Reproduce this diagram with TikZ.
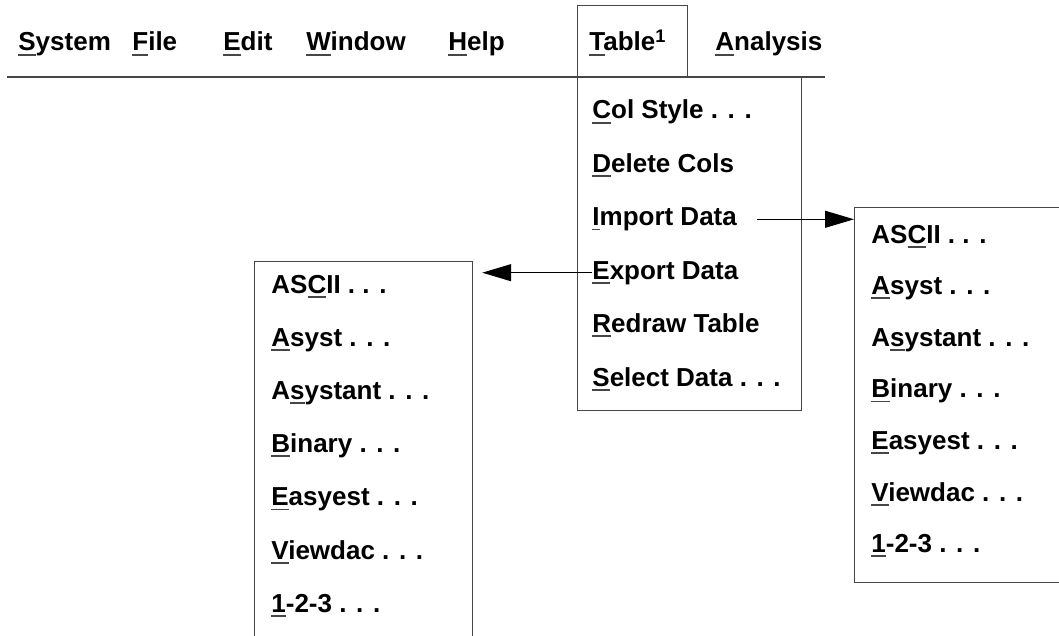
\documentclass[tikz,border=0pt]{standalone}
\usepackage{fontspec}
\setmainfont{Liberation Sans}
\usepackage{xcolor}
\usetikzlibrary{arrows.meta,positioning}
\definecolor{ink}{RGB}{0,0,0}
\definecolor{rulegray}{RGB}{70,70,70}
% underlined access letter of a menu entry
\newcommand{\hotkey}[1]{\setbox0\hbox{#1}\rlap{\color{rulegray}\rule[-2.3pt]{\wd0}{0.9pt}}#1}
\tikzset{
  menuitem/.style={inner sep=0pt,anchor=base west,text=ink,
    font=\fontsize{13}{15}\selectfont\bfseries,text height=9.5pt,text depth=3pt},
  frame/.style={draw=rulegray,line width=0.6pt,inner sep=0pt,anchor=north west},
  pointer/.style={draw=ink,line width=0.6pt,-{Triangle[length=14.5pt,width=8.5pt]}}
}
\begin{document}
\begin{tikzpicture}[x=0.5pt,y=-0.5pt]
  \clip (0,0) rectangle (1059,636);
  \fill[white] (0,0) rectangle (1059,636);
  % menu bar
  \node[menuitem] (sys) at (18,51) {\hotkey{S}ystem};
  \node[menuitem] (file) at (132,51) {\hotkey{F}ile};
  \node[menuitem] (edit) at (223,51) {\hotkey{E}dit};
  \node[menuitem] (win) at (306,51) {\hotkey{W}indow};
  \node[menuitem] (help) at (448,51) {\hotkey{H}elp};
  \node[menuitem] (tab) at (589,51) {\hotkey{T}able\textsuperscript{1}};
  \node[menuitem] (ana) at (715,51) {\hotkey{A}nalysis};
  \draw[rulegray,line width=0.6pt] (7,77) -- (825,77);
  \node[frame,minimum width=55pt,minimum height=36pt] (tabbox) at (577,5) {};
  % Table menu
  \node[frame,minimum width=112pt,minimum height=166.5pt] (drop) at (577,77) {};
  \foreach \name/\txt [count=\i from 0] in {col/{\hotkey{C}ol Style . . .},
      del/{\hotkey{D}elete Cols},imp/{\hotkey{I}mport Data},exp/{\hotkey{E}xport Data},
      red/{\hotkey{R}edraw Table},sel/{\hotkey{S}elect Data . . .}}
    {\node[menuitem] (\name) at (592,{119+53.4*\i}) {\txt};}
  % export submenu
  \node[frame,minimum width=109pt,minimum height=200pt] (lbox) at (254,261) {};
  \foreach \name/\txt [count=\i from 0] in {lasc/{AS\hotkey{C}II . . .},
      lasy/{\hotkey{A}syst . . .},lasn/{A\hotkey{s}ystant . . .},lbin/{\hotkey{B}inary . . .},
      leas/{\hotkey{E}asyest . . .},lvie/{\hotkey{V}iewdac . . .},lott/{\hotkey{1}-2-3 . . .}}
    {\node[menuitem] (\name) at (271,{293+53.2*\i}) {\txt};}
  % import submenu
  \node[frame,minimum width=108pt,minimum height=187.5pt] (rbox) at (854,207) {};
  \foreach \name/\txt [count=\i from 0] in {rasc/{AS\hotkey{C}II . . .},
      rasy/{\hotkey{A}syst . . .},rasn/{A\hotkey{s}ystant . . .},rbin/{\hotkey{B}inary . . .},
      reas/{\hotkey{E}asyest . . .},rvie/{\hotkey{V}iewdac . . .},rott/{\hotkey{1}-2-3 . . .}}
    {\node[menuitem] (\name) at (871,{243+51.6*\i}) {\txt};}
  \draw[pointer] ([xshift=10pt]imp.east) -- (rbox.west |- imp.east);
  \draw[pointer] (exp.west) -- ([xshift=4.5pt]lbox.east |- exp.west);
\end{tikzpicture}
\end{document}
